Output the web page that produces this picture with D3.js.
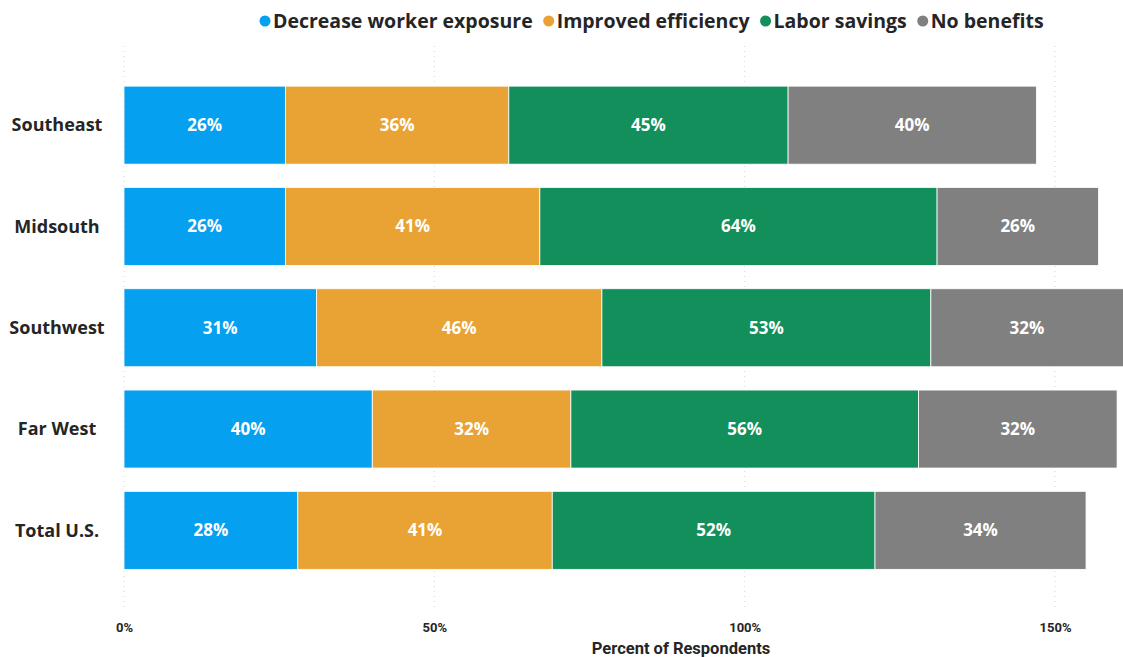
<!DOCTYPE html>
<html>
<head>
<meta charset="utf-8">
<script src="https://cdn.jsdelivr.net/npm/d3@7"></script>
<style>
  html, body { margin: 0; padding: 0; background: #fff; }
  svg { display: block; }
</style>
</head>
<body>
<svg id="chart" width="1123" height="657"></svg>
<script>
// Regions shown as rows, top to bottom
const regions = ["Southeast", "Midsouth", "Southwest", "Far West", "Total U.S."];

// Benefit categories (stack order, left to right)
const benefits = ["Decrease worker exposure", "Improved efficiency", "Labor savings", "No benefits"];

// Percent of respondents per region, one array per benefit
const decreaseExposure = [26, 26, 31, 40, 28];
const improvedEfficiency = [36, 41, 46, 32, 41];
const laborSavings = [45, 64, 53, 56, 52];
const noBenefits = [40, 26, 32, 32, 34];

// Axis ticks
const xTicks = [0, 50, 100, 150];

const benefitColors = ["#05A0EF", "#E9A334", "#128F5B", "#808080"];

const seriesValues = [decreaseExposure, improvedEfficiency, laborSavings, noBenefits];
const rows = regions.map((r, i) => {
  const o = { region: r };
  benefits.forEach((b, j) => { o[b] = seriesValues[j][i]; });
  return o;
});

const W = 1123, H = 657;
const svg = d3.select("#chart");

const x = d3.scaleLinear().domain([0, 150]).range([124, 1055]);
const y = d3.scaleBand().domain(regions).range([74.5, 581]).paddingInner(0.23).paddingOuter(0.115);
const color = d3.scaleOrdinal().domain(benefits).range(benefitColors);

const stacked = d3.stack().keys(benefits)(rows);

// Dotted vertical gridlines
svg.append("g")
  .selectAll("line")
  .data(xTicks)
  .join("line")
  .attr("x1", d => x(d)).attr("x2", d => x(d))
  .attr("y1", 46).attr("y2", 610)
  .attr("stroke", "#d6d6d6")
  .attr("stroke-width", 1)
  .attr("stroke-dasharray", "1,4");

// Stacked bars, clipped at the right edge of the canvas
svg.append("defs").append("clipPath").attr("id", "plotClip")
  .append("rect").attr("x", 0).attr("y", 0).attr("width", W).attr("height", H);

const plot = svg.append("g").attr("clip-path", "url(#plotClip)");

const layers = plot.selectAll("g.layer")
  .data(stacked)
  .join("g")
  .attr("class", "layer")
  .attr("fill", d => color(d.key));

layers.selectAll("rect")
  .data(d => d)
  .join("rect")
  .attr("x", d => x(d[0]))
  .attr("y", d => y(d.data.region))
  .attr("width", d => x(d[1]) - x(d[0]))
  .attr("height", y.bandwidth())
  .attr("stroke", "#ffffff")
  .attr("stroke-width", 0.8);

// Value labels inside each segment
layers.selectAll("text")
  .data(d => d)
  .join("text")
  .attr("x", d => (x(d[0]) + Math.min(x(d[1]), W)) / 2)
  .attr("y", d => y(d.data.region) + y.bandwidth() / 2)
  .attr("dy", "0.35em")
  .attr("text-anchor", "middle")
  .attr("fill", "#ffffff")
  .attr("font-family", "'Open Sans', 'Noto Sans', sans-serif")
  .attr("font-weight", 700)
  .attr("font-size", 17)
  .text(d => (d[1] - d[0]) + "%");

// Category labels on the left
svg.append("g")
  .selectAll("text")
  .data(regions)
  .join("text")
  .attr("x", 57)
  .attr("y", d => y(d) + y.bandwidth() / 2)
  .attr("dy", "0.35em")
  .attr("text-anchor", "middle")
  .attr("fill", "#252525")
  .attr("font-family", "'Open Sans', 'Noto Sans', sans-serif")
  .attr("font-weight", 700)
  .attr("font-size", 18)
  .text(d => d);

// Bottom axis (labels only)
const xAxis = d3.axisBottom(x).tickValues(xTicks).tickFormat(d => d + "%").tickSize(0);
const axisG = svg.append("g").attr("transform", "translate(0,620)").call(xAxis);
axisG.select(".domain").remove();
axisG.selectAll("text")
  .attr("fill", "#252525")
  .attr("font-family", "'Roboto', 'Liberation Sans', sans-serif")
  .attr("font-weight", 700)
  .attr("font-size", 13);

svg.append("text")
  .attr("x", 681)
  .attr("y", 654)
  .attr("text-anchor", "middle")
  .attr("fill", "#252525")
  .attr("font-family", "'Roboto', 'Liberation Sans', sans-serif")
  .attr("font-weight", 700)
  .attr("font-size", 16.5)
  .text("Percent of Respondents");

// Legend across the top
const legend = svg.append("g").attr("transform", "translate(259,21)");
let lx = 0;
benefits.forEach((b, i) => {
  const g = legend.append("g").attr("transform", `translate(${lx},0)`);
  g.append("circle").attr("cx", 6).attr("cy", 0).attr("r", 5.5).attr("fill", color(b));
  const t = g.append("text")
    .attr("x", 14)
    .attr("dy", "0.35em")
    .attr("fill", "#252525")
    .attr("font-family", "'Open Sans', 'Noto Sans', sans-serif")
    .attr("font-weight", 700)
    .attr("font-size", 19.5)
    .text(b);
  lx += 14 + t.node().getComputedTextLength() + 10;
});
</script>
</body>
</html>
